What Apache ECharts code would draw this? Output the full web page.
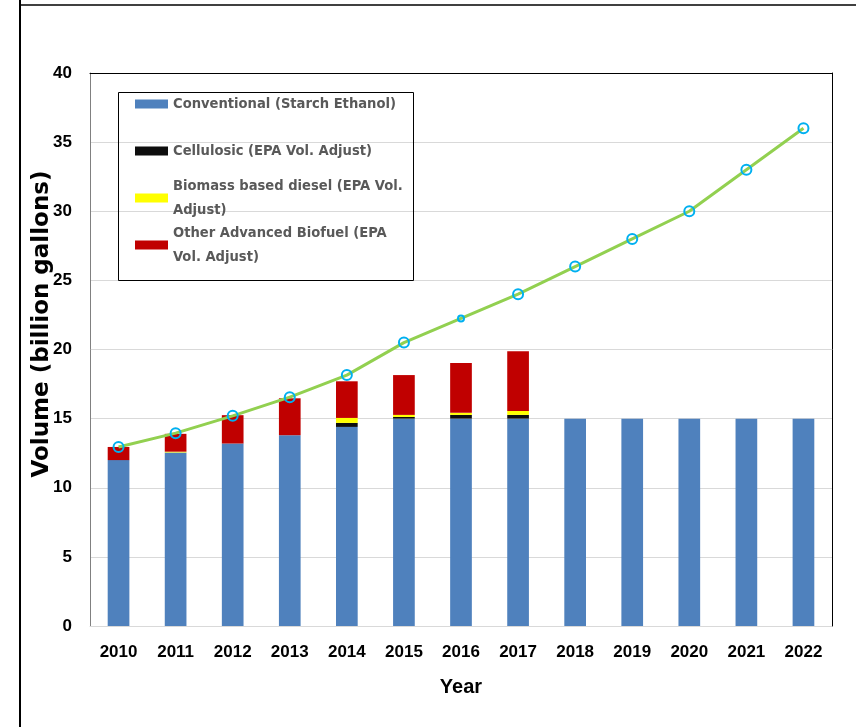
<!DOCTYPE html>
<html>
<head>
<meta charset="utf-8">
<script src="https://cdn.jsdelivr.net/npm/echarts@6/dist/echarts.min.js"></script>
<style>
  html, body { margin: 0; padding: 0; background: #fff; }
  #chart { width: 856px; height: 727px; }
</style>
</head>
<body>
<div id="chart"></div>
<script>
// Renewable fuel volumes by year (billion gallons)
const years = ['2010','2011','2012','2013','2014','2015','2016','2017','2018','2019','2020','2021','2022'];
const conventional = [12.0, 12.55, 13.2, 13.8, 14.4, 15.0, 15.0, 15.0, 15.0, 15.0, 15.0, 15.0, 15.0];
const cellulosic   = [0, 0, 0, 0, 0.29, 0.12, 0.27, 0.27, 0, 0, 0, 0, 0];
const biomassDiesel = [0, 0.06, 0, 0, 0.36, 0.15, 0.15, 0.29, 0, 0, 0, 0, 0];
const otherAdvanced = [0.95, 1.29, 2.05, 2.67, 2.65, 2.88, 3.6, 4.32, 0, 0, 0, 0, 0];
const totalMandate = [12.95, 13.95, 15.2, 16.55, 18.15, 20.5, 22.25, 24.0, 26.0, 28.0, 30.0, 33.0, 36.0];
const yTicks = [0, 5, 10, 15, 20, 25, 30, 35, 40];

const names = {
  conv: 'Conventional (Starch Ethanol)',
  cell: 'Cellulosic (EPA Vol. Adjust)',
  bio: 'Biomass based diesel (EPA Vol. Adjust)',
  other: 'Other Advanced Biofuel (EPA Vol. Adjust)'
};
const legendText = {};
legendText[names.conv] = 'Conventional (Starch Ethanol)';
legendText[names.cell] = 'Cellulosic (EPA Vol. Adjust)';
legendText[names.bio] = 'Biomass based diesel (EPA Vol.\nAdjust)';
legendText[names.other] = 'Other Advanced Biofuel (EPA\nVol. Adjust)';

const labelFont = "'Liberation Sans', Arial, sans-serif";
const legendFont = "'DejaVu Sans Condensed', 'DejaVu Sans', sans-serif";

function legendItem(name, top, twoLines) {
  return {
    data: [name],
    left: 135,
    top: top,
    padding: 0,
    itemWidth: 33,
    itemHeight: 9,
    itemGap: 0,
    selectedMode: false,
    icon: 'rect',
    formatter: n => legendText[n],
    textStyle: {
      fontFamily: legendFont,
      fontWeight: 'bold',
      fontSize: 14.6,
      color: '#595959',
      lineHeight: 24,
      padding: twoLines ? [24, 0, 0, 0] : 0
    }
  };
}

const chart = echarts.init(document.getElementById('chart'));
chart.setOption({
  backgroundColor: '#fff',
  animation: false,
  grid: { left: 90, right: 24, top: 73, bottom: 101 },
  legend: [
    legendItem(names.conv, 92, false),
    legendItem(names.cell, 139, false),
    legendItem(names.bio, 162, true),
    legendItem(names.other, 209, true)
  ],
  graphic: [
    // outer frame edges
    { type: 'line', shape: { x1: 20, y1: 0, x2: 20, y2: 727 }, style: { stroke: '#000', lineWidth: 2 } },
    { type: 'line', shape: { x1: 20, y1: 5, x2: 856, y2: 5 }, style: { stroke: '#000', lineWidth: 1.5 } },
    // legend box
    { type: 'rect', shape: { x: 118.5, y: 92.5, width: 295, height: 188 }, style: { fill: 'rgba(0,0,0,0)', stroke: '#000', lineWidth: 1 }, z: 5 },
    // vertical axis title
    {
      type: 'text', x: 42, y: 324, rotation: Math.PI / 2,
      style: {
        text: 'Volume (billion gallons)', fontFamily: "'DejaVu Sans', sans-serif",
        fontWeight: 'bold', fontSize: 23, fill: '#000', align: 'center', verticalAlign: 'middle'
      }
    }
  ],
  xAxis: [
    {
      type: 'category', data: years,
      name: 'Year', nameLocation: 'middle', nameGap: 51,
      nameTextStyle: { fontFamily: labelFont, fontWeight: 'bold', fontSize: 20, color: '#000' },
      axisLine: { onZero: false, lineStyle: { color: '#d9d9d9', width: 1 } },
      axisTick: { show: false },
      axisLabel: { fontFamily: labelFont, fontWeight: 'bold', fontSize: 17, color: '#000', margin: 18 }
    },
    {
      type: 'category', data: years, position: 'top', z: 6,
      axisLine: { onZero: false, lineStyle: { color: '#000', width: 1 } },
      axisTick: { show: false }, axisLabel: { show: false }
    }
  ],
  yAxis: [
    {
      type: 'value', min: 0, max: 40, interval: 5,
      axisLine: { show: true, onZero: false, lineStyle: { color: '#808080', width: 1 } },
      axisTick: { show: false },
      axisLabel: {
        fontFamily: labelFont, fontWeight: 'bold', fontSize: 17, color: '#000', margin: 18,
        formatter: v => (yTicks.indexOf(v) >= 0 ? String(v) : '')
      },
      splitLine: { lineStyle: { color: '#d9d9d9', width: 1 } }
    },
    {
      type: 'value', min: 0, max: 40, interval: 5, position: 'right', z: 6,
      axisLine: { show: true, onZero: false, lineStyle: { color: '#000', width: 1 } },
      axisTick: { show: false }, axisLabel: { show: false }, splitLine: { show: false }
    }
  ],
  series: [
    { name: names.conv, type: 'bar', stack: 'vol', data: conventional, barWidth: '38%', itemStyle: { color: '#4F81BD' } },
    { name: names.cell, type: 'bar', stack: 'vol', data: cellulosic, itemStyle: { color: '#0D0D0D' } },
    { name: names.bio, type: 'bar', stack: 'vol', data: biomassDiesel, itemStyle: { color: '#FFFF00' } },
    { name: names.other, type: 'bar', stack: 'vol', data: otherAdvanced, itemStyle: { color: '#C00000' } },
    {
      name: 'Total RFS', type: 'line', data: totalMandate.map((v, i) => (i === 6 ? { value: v, symbolSize: 6 } : v)),
      symbol: 'circle', symbolSize: 10,
      lineStyle: { color: '#92D050', width: 3 },
      itemStyle: { color: 'rgba(0,0,0,0)', borderColor: '#00B0F0', borderWidth: 2 },
      z: 10
    }
  ]
});
</script>
</body>
</html>
